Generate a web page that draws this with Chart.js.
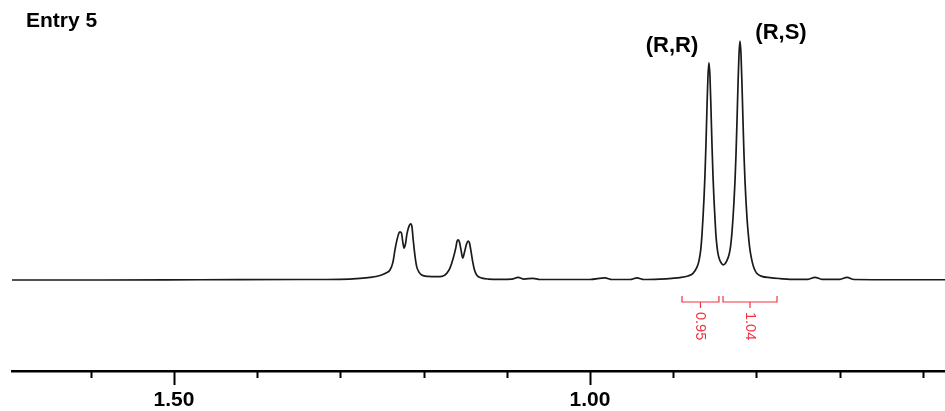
<!DOCTYPE html>
<html><head><meta charset="utf-8">
<script src="https://cdn.jsdelivr.net/npm/chart.js@4.4.0/dist/chart.umd.min.js"></script>
<style>html,body{margin:0;padding:0;background:#fff;}#wrap{width:945px;height:411px;position:relative}</style>
</head><body><div id="wrap"><canvas id="c" width="945" height="411"></canvas></div>
<script>
const shiftPpm = [
  1.6947, 1.5889, 1.4688, 1.3486, 1.3005, 1.2764, 1.2644, 1.2524, 1.2452, 1.2404,
  1.2368, 1.2344, 1.2320, 1.2296, 1.2284, 1.2266, 1.2248, 1.2236, 1.2218, 1.2200,
  1.2175, 1.2155, 1.2139, 1.2127, 1.2112, 1.2097, 1.2083, 1.2055, 1.2023, 1.1947,
  1.1843, 1.1779, 1.1722, 1.1683, 1.1643, 1.1611, 1.1599, 1.1583, 1.1569, 1.1550,
  1.1530, 1.1508, 1.1484, 1.1463, 1.1448, 1.1430, 1.1410, 1.1388, 1.1362, 1.1298,
  1.1222, 1.1082, 1.0938, 1.0865, 1.0793, 1.0685, 1.0601, 1.0361, 1.0000, 0.9820,
  0.9736, 0.9519, 0.9435, 0.9351, 0.9159, 0.9014, 0.8918, 0.8822, 0.8762, 0.8714,
  0.8690, 0.8669, 0.8654, 0.8642, 0.8630, 0.8618, 0.8606, 0.8594, 0.8582, 0.8570,
  0.8558, 0.8546, 0.8534, 0.8522, 0.8510, 0.8498, 0.8486, 0.8474, 0.8462, 0.8444,
  0.8420, 0.8398, 0.8377, 0.8353, 0.8329, 0.8317, 0.8305, 0.8293, 0.8281, 0.8269,
  0.8257, 0.8245, 0.8233, 0.8221, 0.8209, 0.8197, 0.8185, 0.8173, 0.8161, 0.8149,
  0.8137, 0.8125, 0.8113, 0.8095, 0.8077, 0.8053, 0.8029, 0.7996, 0.7933, 0.7837,
  0.7716, 0.7596, 0.7380, 0.7296, 0.7212, 0.6995, 0.6911, 0.6827, 0.6274, 0.5733
];
// Relative intensity at each point ((R,S) peak = 100)
const intensity = [
  -0.2, -0.2, -0.1, 0.0, 0.1, 0.5, 0.9, 1.7, 2.7, 4.0,
  7.3, 12.4, 16.6, 19.5, 20.0, 19.5, 15.3, 13.2, 14.9, 19.1,
  22.4, 23.3, 22.0, 17.4, 12.4, 8.2, 5.4, 3.1, 1.9, 1.3,
  1.2, 1.3, 2.6, 4.8, 9.0, 13.6, 15.9, 16.6, 15.7, 12.4,
  9.0, 11.5, 14.9, 16.1, 15.3, 11.9, 7.5, 4.0, 1.9, 0.6,
  0.2, 0.1, 0.2, 0.9, 0.2, 0.5, 0.0, 0.0, 0.0, 0.7,
  0.0, 0.0, 0.7, 0.0, 0.2, 0.5, 0.8, 1.5, 2.6, 5.2,
  7.8, 12.4, 18.7, 25.8, 33.8, 43.8, 56.8, 71.9, 85.3, 91.0,
  85.3, 71.9, 56.8, 43.8, 33.8, 25.8, 18.5, 14.0, 11.0, 8.5,
  6.8, 6.1, 6.6, 8.0, 10.4, 12.4, 15.5, 20.0, 25.8, 32.9,
  41.3, 52.4, 66.5, 81.6, 94.5, 100.0, 94.5, 81.6, 66.5, 52.4,
  41.3, 32.9, 25.8, 18.2, 12.4, 7.8, 4.8, 2.6, 1.3, 0.8,
  0.4, 0.1, 0.1, 0.9, 0.1, 0.1, 0.9, 0.0, -0.1, -0.1
];
const majorTickValues = [1.5, 1.0];
const axisMin = 0.5733;
const axisMax = 1.6947;
const integralStart = [0.8894, 0.8401];
const integralEnd = [0.8450, 0.7752];
const integralLabels = ['0.95', '1.04'];
const peakNames = ['(R,R)', '(R,S)'];
const peakNamePpm = [0.9014, 0.7704];
const peakNameLevel = [97.9, 103.4];
const chartTitle = 'Entry 5';

const points = shiftPpm.map((p, i) => ({ x: p, y: intensity[i] }));
const RED = 'rgb(240,52,66)';
const isMajor = v => majorTickValues.some(m => Math.abs(m - v) < 1e-6);

const annot = {
  id: 'annot',
  afterDraw(chart) {
    const ctx = chart.ctx, xs = chart.scales.x, ys = chart.scales.y;
    ctx.save();
    // tick marks
    ctx.strokeStyle = '#000'; ctx.lineWidth = 2;
    const top = xs.top;
    xs.ticks.forEach(t => {
      const px = Math.round(xs.getPixelForValue(t.value)) + 0.5;
      ctx.beginPath(); ctx.moveTo(px, top); ctx.lineTo(px, top + (isMajor(t.value) ? 14 : 7)); ctx.stroke();
    });
    // integrals
    const base = ys.getPixelForValue(0) + 22.5;
    ctx.strokeStyle = RED; ctx.fillStyle = RED; ctx.lineWidth = 1.2;
    integralStart.forEach((a, i) => {
      const xa = xs.getPixelForValue(a), xb = xs.getPixelForValue(integralEnd[i]);
      const xm = (xa + xb) / 2;
      ctx.beginPath();
      ctx.moveTo(xa, base - 6); ctx.lineTo(xa, base); ctx.lineTo(xb, base); ctx.lineTo(xb, base - 6);
      ctx.moveTo(xm, base); ctx.lineTo(xm, base + 6);
      ctx.stroke();
      ctx.save();
      ctx.translate(xm, base + 10);
      ctx.rotate(Math.PI / 2);
      ctx.font = '14.5px "Liberation Sans", Arial, sans-serif';
      ctx.textAlign = 'left'; ctx.textBaseline = 'middle';
      ctx.fillText(integralLabels[i], 0, 0);
      ctx.restore();
    });
    // peak names
    ctx.fillStyle = '#000';
    ctx.font = 'bold 22px "Liberation Sans", Arial, sans-serif';
    ctx.textAlign = 'center'; ctx.textBaseline = 'middle';
    peakNames.forEach((n, i) => {
      ctx.fillText(n, xs.getPixelForValue(peakNamePpm[i]), ys.getPixelForValue(peakNameLevel[i]));
    });
    // title
    ctx.textAlign = 'left'; ctx.textBaseline = 'alphabetic';
    ctx.font = 'bold 21px "Liberation Sans", Arial, sans-serif';
    ctx.fillText(chartTitle, 26, 27);
    ctx.restore();
  }
};

new Chart(document.getElementById('c'), {
  type: 'scatter',
  data: { datasets: [{ data: points, showLine: true, pointRadius: 0, borderColor: '#1a1a1a', borderWidth: 1.7,
    cubicInterpolationMode: 'monotone', fill: false }] },
  options: {
    responsive: false, animation: false, devicePixelRatio: 1,
    layout: { padding: { left: 12, right: 0, top: 0, bottom: 0 } },
    plugins: { legend: { display: false }, tooltip: { enabled: false }, title: { display: false } },
    scales: {
      x: {
        type: 'linear', reverse: true, min: axisMin, max: axisMax,
        afterFit: s => { s.height = 40; },
        border: { display: true, color: '#000', width: 2.5 },
        grid: { display: false, drawTicks: false },
        ticks: {
          stepSize: 0.1, includeBounds: false, autoSkip: false, maxRotation: 0, minRotation: 0,
          padding: 17, color: '#000',
          font: { family: '"Liberation Sans", Arial, sans-serif', size: 21, weight: 'bold' },
          callback: v => isMajor(v) ? v.toFixed(2) : ''
        }
      },
      y: { display: false, min: -38.36, max: 117.2 }
    }
  },
  plugins: [annot]
});
</script></body></html>
